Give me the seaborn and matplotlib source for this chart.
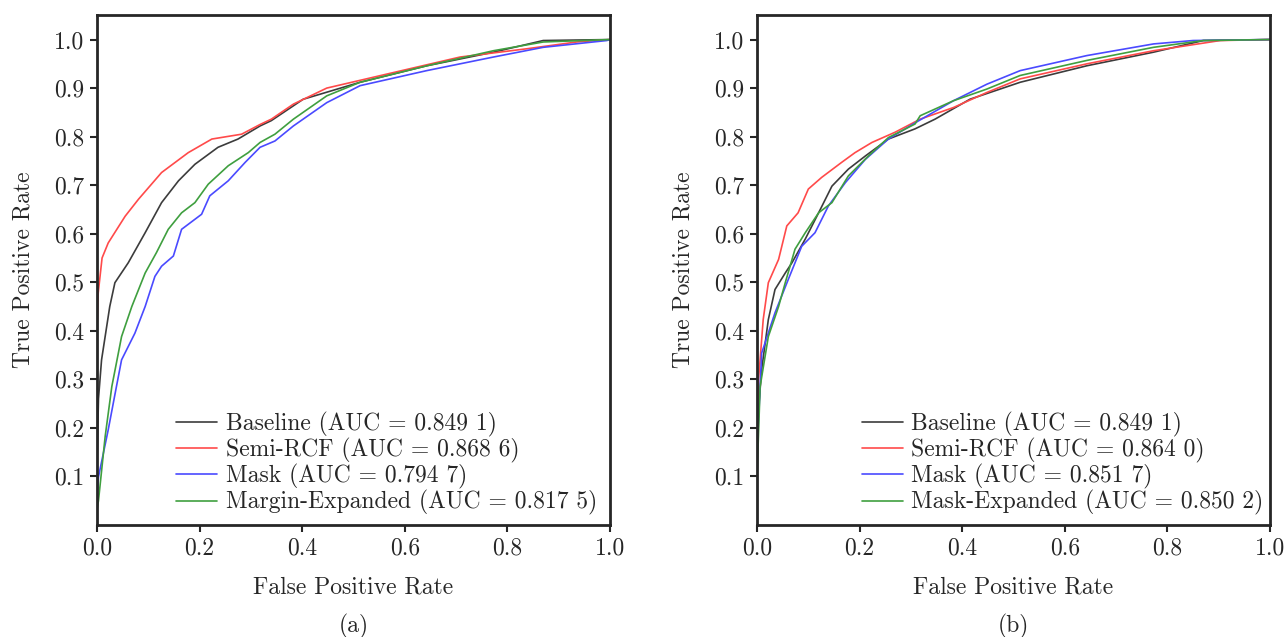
import pandas as pd
import seaborn as sns
import matplotlib.pyplot as plt

# ROC curves, panel (a)
a_base_fpr = [0.0, 0.0, 0.003, 0.009, 0.025, 0.035, 0.061, 0.094, 0.126, 0.159, 0.191, 0.236, 0.275, 0.318, 0.34, 0.402, 0.513, 0.643, 0.773, 0.87, 1.0]
a_base_tpr = [0.0, 0.12, 0.26, 0.34, 0.45, 0.499, 0.54, 0.602, 0.664, 0.709, 0.743, 0.778, 0.795, 0.822, 0.833, 0.877, 0.912, 0.946, 0.974, 0.998, 1.0]
a_semi_fpr = [0.0, 0.0, 0.0025, 0.01, 0.022, 0.055, 0.081, 0.126, 0.178, 0.224, 0.282, 0.318, 0.34, 0.383, 0.448, 0.578, 0.708, 0.838, 0.935, 1.0]
a_semi_tpr = [0.0, 0.4, 0.478, 0.55, 0.581, 0.636, 0.671, 0.726, 0.767, 0.795, 0.805, 0.825, 0.836, 0.867, 0.9, 0.932, 0.964, 0.981, 0.995, 1.0]
a_mask_fpr = [0.0, 0.0, 0.003, 0.022, 0.038, 0.048, 0.074, 0.094, 0.113, 0.126, 0.149, 0.165, 0.204, 0.22, 0.256, 0.289, 0.318, 0.347, 0.383, 0.448, 0.513, 0.643, 0.773, 0.87, 0.994, 1.0]
a_mask_tpr = [0.0, 0.06, 0.099, 0.196, 0.285, 0.34, 0.395, 0.45, 0.512, 0.533, 0.554, 0.609, 0.64, 0.678, 0.709, 0.747, 0.778, 0.791, 0.822, 0.87, 0.905, 0.936, 0.964, 0.984, 0.998, 1.0]
a_marg_fpr = [0.0, 0.0, 0.003, 0.016, 0.029, 0.048, 0.068, 0.094, 0.116, 0.139, 0.165, 0.191, 0.217, 0.256, 0.295, 0.318, 0.347, 0.383, 0.448, 0.513, 0.643, 0.773, 0.87, 1.0]
a_marg_tpr = [0.0, 0.03, 0.05, 0.182, 0.285, 0.388, 0.45, 0.519, 0.561, 0.609, 0.643, 0.664, 0.702, 0.74, 0.767, 0.788, 0.805, 0.836, 0.884, 0.912, 0.946, 0.977, 0.995, 1.0]

# panel (b)
b_base_fpr = [0.0, 0.0, 0.009, 0.022, 0.035, 0.055, 0.068, 0.094, 0.12, 0.146, 0.178, 0.211, 0.256, 0.308, 0.347, 0.415, 0.513, 0.643, 0.773, 0.87, 1.0]
b_base_tpr = [0.0, 0.2, 0.32, 0.423, 0.485, 0.519, 0.54, 0.589, 0.643, 0.698, 0.733, 0.76, 0.795, 0.816, 0.836, 0.877, 0.912, 0.946, 0.974, 0.998, 1.0]
b_semi_fpr = [0.0, 0.0, 0.003, 0.012, 0.022, 0.042, 0.058, 0.08, 0.1, 0.126, 0.165, 0.191, 0.224, 0.269, 0.318, 0.383, 0.448, 0.513, 0.643, 0.773, 0.903, 1.0]
b_semi_tpr = [0.0, 0.2, 0.3, 0.423, 0.499, 0.547, 0.616, 0.643, 0.692, 0.716, 0.747, 0.767, 0.788, 0.809, 0.836, 0.86, 0.891, 0.919, 0.95, 0.977, 0.998, 1.0]
b_mask_fpr = [0.0, 0.0, 0.009, 0.035, 0.061, 0.087, 0.113, 0.139, 0.172, 0.211, 0.256, 0.314, 0.383, 0.448, 0.513, 0.643, 0.773, 0.85, 1.0]
b_mask_tpr = [0.0, 0.15, 0.354, 0.437, 0.506, 0.574, 0.602, 0.657, 0.705, 0.753, 0.795, 0.832, 0.874, 0.908, 0.936, 0.967, 0.991, 0.998, 1.0]
b_mexp_fpr = [0.0, 0.0, 0.006, 0.022, 0.042, 0.055, 0.074, 0.094, 0.12, 0.146, 0.178, 0.217, 0.256, 0.308, 0.318, 0.383, 0.448, 0.513, 0.643, 0.773, 0.87, 1.0]
b_mexp_tpr = [0.0, 0.1, 0.285, 0.388, 0.45, 0.499, 0.568, 0.602, 0.643, 0.664, 0.719, 0.76, 0.798, 0.826, 0.843, 0.874, 0.898, 0.926, 0.957, 0.984, 0.998, 1.0]

a_labels = ["Baseline (AUC = 0.849 1)", "Semi-RCF (AUC = 0.868 6)",
            "Mask (AUC = 0.794 7)", "Margin-Expanded (AUC = 0.817 5)"]
b_labels = ["Baseline (AUC = 0.849 1)", "Semi-RCF (AUC = 0.864 0)",
            "Mask (AUC = 0.851 7)", "Mask-Expanded (AUC = 0.850 2)"]
colors = ["#3c3c3c", "#ff4a4a", "#4a4aff", "#3f9f3f"]
x_ticks = [0.0, 0.2, 0.4, 0.6, 0.8, 1.0]
y_ticks = [0.1, 0.2, 0.3, 0.4, 0.5, 0.6, 0.7, 0.8, 0.9, 1.0]

sns.set_style("ticks")
plt.rcParams["font.family"] = ["cmr10", "DejaVu Serif"]
plt.rcParams["mathtext.fontset"] = "cm"
plt.rcParams["axes.formatter.use_mathtext"] = True

FS = 17


def make_df(curves, labels):
    frames = []
    for (fpr, tpr), lab in zip(curves, labels):
        frames.append(pd.DataFrame({"fpr": fpr, "tpr": tpr, "model": lab}))
    return pd.concat(frames, ignore_index=True)


panels = [
    (make_df([(a_base_fpr, a_base_tpr), (a_semi_fpr, a_semi_tpr),
              (a_mask_fpr, a_mask_tpr), (a_marg_fpr, a_marg_tpr)], a_labels), a_labels, "(a)", 0.993),
    (make_df([(b_base_fpr, b_base_tpr), (b_semi_fpr, b_semi_tpr),
              (b_mask_fpr, b_mask_tpr), (b_mexp_fpr, b_mexp_tpr)], b_labels), b_labels, "(b)", 1.006),
]

fig = plt.figure(figsize=(12.84, 6.37), dpi=100)
axes = [fig.add_axes([0.0755, 0.176, 0.3995, 0.8]),
        fig.add_axes([0.5896, 0.176, 0.3995, 0.8])]

for ax, (df, labels, cap, lx) in zip(axes, panels):
    sns.lineplot(data=df, x="fpr", y="tpr", hue="model", hue_order=labels,
                 palette=colors, sort=False, estimator=None, linewidth=1.2, ax=ax)
    ax.set_xlim(0, 1)
    ax.set_ylim(0, 1.05)
    ax.set_xticks(x_ticks)
    ax.set_yticks(y_ticks)
    ax.set_xticklabels([f"{t:.1f}" for t in x_ticks])
    ax.set_yticklabels([f"{t:.1f}" for t in y_ticks])
    ax.tick_params(labelsize=FS, width=1.5, length=5, direction="out", pad=4)
    for s in ax.spines.values():
        s.set_linewidth(2)
    ax.set_xlabel("False Positive Rate", fontsize=FS, labelpad=12)
    ax.set_ylabel("True Positive Rate", fontsize=FS, labelpad=14)
    ax.legend(loc="lower right", bbox_to_anchor=(lx, 0.0), frameon=False, fontsize=FS,
              handlelength=1.75, labelspacing=0.05, borderaxespad=0.0, handletextpad=0.35)
    ax.text(0.5, -0.2, cap, transform=ax.transAxes, ha="center", va="center", fontsize=FS)

fig.savefig("out.png", dpi=100)
